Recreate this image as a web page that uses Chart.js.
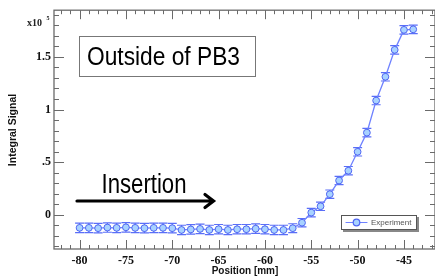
<!DOCTYPE html>
<html>
<head>
<meta charset="utf-8">
<script src="https://cdn.jsdelivr.net/npm/chart.js@4/dist/chart.umd.min.js"></script>
<style>
  html, body { margin: 0; padding: 0; background: #fff; overflow: hidden; }
  #wrap { width: 440px; height: 277px; }
</style>
</head>
<body>
<div id="wrap"><canvas id="myChart" width="440" height="277"></canvas></div>
<script>
// Datos del gráfico (posición en mm, señal integral en unidades de 1e5)
const positions = [-80, -79, -78, -77, -76, -75, -74, -73, -72, -71, -70, -69, -68, -67, -66, -65, -64, -63, -62,
    -61, -60, -59, -58, -57, -56, -55, -54, -53, -52, -51, -50, -49, -48, -47, -46, -45, -44];
const signal = [-0.125, -0.125, -0.128, -0.122, -0.125, -0.12, -0.125, -0.128, -0.125, -0.125, -0.128, -0.145,
    -0.14, -0.135, -0.145, -0.138, -0.145, -0.138, -0.138, -0.133, -0.138, -0.145, -0.145, -0.128, -0.076,
    0.02, 0.08, 0.195, 0.325, 0.418, 0.598, 0.78, 1.085, 1.311, 1.567, 1.757, 1.762];
const signalErr = [0.045, 0.045, 0.045, 0.045, 0.045, 0.045, 0.045, 0.045, 0.045, 0.045, 0.045, 0.045,
    0.045, 0.045, 0.045, 0.045, 0.045, 0.045, 0.045, 0.045, 0.045, 0.045, 0.045, 0.042, 0.04,
    0.04, 0.04, 0.04, 0.04, 0.04, 0.04, 0.04, 0.04, 0.04, 0.04, 0.04, 0.04];

// Ticks
const xMajorTicks = [-80, -75, -70, -65, -60, -55, -50, -45];
const xTickLabels = ['-80', '-75', '-70', '-65', '-60', '-55', '-50', '-45'];
const yMajorTicks = [0, 0.5, 1, 1.5];
const yTickLabels = ['0', '.5', '1', '1.5'];

const lineColor = '#6f82ff';
const markerBorder = '#4f66f2';
const markerFill = '#a8d2ff';
const frameColor = '#6a6a6a';

// Barras de error dibujadas con las escalas del gráfico
const errorBars = {
    id: 'errorBars',
    beforeDatasetsDraw(chart) {
        const { ctx, scales: { x, y } } = chart;
        ctx.save();
        ctx.strokeStyle = '#5a6ef8';
        ctx.lineWidth = 1.2;
        positions.forEach((p, i) => {
            const px = x.getPixelForValue(p);
            const yt = y.getPixelForValue(signal[i] + signalErr[i]);
            const yb = y.getPixelForValue(signal[i] - signalErr[i]);
            ctx.beginPath();
            ctx.moveTo(px, yt); ctx.lineTo(px, yb);
            ctx.moveTo(px - 4.5, yt); ctx.lineTo(px + 4.5, yt);
            ctx.moveTo(px - 4.5, yb); ctx.lineTo(px + 4.5, yb);
            ctx.stroke();
        });
        ctx.restore();
    }
};

// Marco, marcas de los ejes y anotaciones
const frameAndText = {
    id: 'frameAndText',
    afterDraw(chart) {
        const { ctx, chartArea: a, scales: { x, y } } = chart;
        ctx.save();
        ctx.strokeStyle = frameColor;
        ctx.lineWidth = 1.3;
        ctx.strokeRect(a.left, a.top, a.right - a.left, a.bottom - a.top);

        ctx.lineWidth = 1;
        ctx.beginPath();
        for (let v = -82; v <= -42; v++) {
            const px = Math.round(x.getPixelForValue(v)) + 0.5;
            const len = xMajorTicks.includes(v) ? 9 : 4;
            ctx.moveTo(px, a.bottom); ctx.lineTo(px, a.bottom - len);
            ctx.moveTo(px, a.top); ctx.lineTo(px, a.top + len);
        }
        for (let k = -3; k <= 19; k++) {
            const v = k / 10;
            const py = Math.round(y.getPixelForValue(v)) + 0.5;
            const len = (k % 5 === 0) ? 10 : 5;
            ctx.moveTo(a.left, py); ctx.lineTo(a.left + len, py);
            ctx.moveTo(a.right, py); ctx.lineTo(a.right - len, py);
        }
        ctx.stroke();

        // x10^5
        ctx.fillStyle = '#222';
        ctx.font = 'bold 10px "Liberation Serif"';
        ctx.textBaseline = 'alphabetic';
        ctx.textAlign = 'left';
        ctx.fillText('x10', 27, 26);
        ctx.font = 'bold 6px "Liberation Serif"';
        ctx.fillText('5', 46.5, 20);

        // títulos de los ejes
        ctx.fillStyle = '#111';
        ctx.font = 'bold 10px "Liberation Sans"';
        ctx.textAlign = 'center';
        ctx.textBaseline = 'middle';
        ctx.fillText('Position [mm]', 245, 271);
        ctx.save();
        ctx.translate(13, 130);
        ctx.rotate(-Math.PI / 2);
        ctx.font = 'bold 10.5px "Liberation Sans"';
        ctx.fillText('Integral Signal', 0, 0);
        ctx.restore();

        // recuadro del título
        ctx.fillStyle = '#fff';
        ctx.fillRect(79, 36, 176, 40);
        ctx.strokeStyle = '#777';
        ctx.lineWidth = 1;
        ctx.strokeRect(79.5, 36.5, 176, 40);
        drawFit(ctx, 'Outside of PB3', 87, 65, 153, 25);

        // Insertion + flecha
        drawFit(ctx, 'Insertion', 101.5, 193, 85, 27);
        ctx.strokeStyle = '#000';
        ctx.lineWidth = 3.2;
        ctx.lineCap = 'round';
        ctx.lineJoin = 'miter';
        ctx.beginPath();
        ctx.moveTo(77, 201); ctx.lineTo(213, 201);
        ctx.moveTo(205, 194.5); ctx.lineTo(213.5, 201); ctx.lineTo(205, 207.5);
        ctx.stroke();

        // leyenda
        ctx.fillStyle = '#888';
        ctx.fillRect(343, 217, 76, 15);
        ctx.fillStyle = '#fff';
        ctx.fillRect(341, 215, 76, 15);
        ctx.strokeStyle = '#555';
        ctx.lineWidth = 1;
        ctx.strokeRect(341.5, 215.5, 75, 14);
        ctx.strokeStyle = lineColor;
        ctx.lineWidth = 1.2;
        ctx.beginPath();
        ctx.moveTo(346, 222.5); ctx.lineTo(367, 222.5);
        ctx.stroke();
        ctx.beginPath();
        ctx.arc(356.5, 222.5, 3.3, 0, Math.PI * 2);
        ctx.fillStyle = markerFill;
        ctx.fill();
        ctx.strokeStyle = markerBorder;
        ctx.stroke();
        ctx.fillStyle = '#555';
        ctx.font = '8px "Liberation Sans"';
        ctx.textAlign = 'left';
        ctx.textBaseline = 'middle';
        ctx.fillText(chart.data.datasets[0].label, 371, 223);
        ctx.restore();
    }
};

// Texto condensado ajustado a un ancho dado
function drawFit(ctx, text, left, baseline, width, size) {
    ctx.save();
    ctx.font = size + 'px "Liberation Sans"';
    ctx.fillStyle = '#000';
    ctx.textAlign = 'left';
    ctx.textBaseline = 'alphabetic';
    const w = ctx.measureText(text).width;
    ctx.translate(left, baseline);
    ctx.scale(width / w, 1);
    ctx.fillText(text, 0, 0);
    ctx.restore();
}

const ctx = document.getElementById('myChart').getContext('2d');
const chart = new Chart(ctx, {
    type: 'line',
    data: {
        datasets: [{
            label: 'Experiment',
            data: positions.map((p, i) => ({ x: p, y: signal[i] })),
            borderColor: lineColor,
            borderWidth: 1.3,
            pointRadius: 3.4,
            pointBorderWidth: 1,
            pointBorderColor: markerBorder,
            pointBackgroundColor: markerFill,
            tension: 0
        }]
    },
    options: {
        responsive: false,
        animation: false,
        layout: { padding: { left: 0, right: 3, top: 10, bottom: 0 } },
        plugins: { legend: { display: false }, tooltip: { enabled: false } },
        scales: {
            x: {
                type: 'linear',
                min: -82.76,
                max: -41.65,
                grid: { display: false, drawTicks: false, tickLength: 0 },
                border: { display: false },
                afterBuildTicks: s => { s.ticks = xMajorTicks.map(v => ({ value: v })); },
                afterFit: s => { s.height = 28; },
                ticks: {
                    padding: 5,
                    maxRotation: 0,
                    autoSkip: false,
                    color: '#111',
                    font: { family: '"Liberation Serif"', size: 12, weight: 'bold' },
                    callback: v => xTickLabels[xMajorTicks.indexOf(v)]
                }
            },
            y: {
                min: -0.326,
                max: 1.944,
                grid: { display: false, drawTicks: false, tickLength: 0 },
                border: { display: false },
                afterBuildTicks: s => { s.ticks = yMajorTicks.map(v => ({ value: v })); },
                afterFit: s => { s.width = 54; },
                ticks: {
                    padding: 3,
                    autoSkip: false,
                    color: '#111',
                    font: { family: '"Liberation Serif"', size: 12, weight: 'bold' },
                    callback: v => yTickLabels[yMajorTicks.indexOf(v)]
                }
            }
        }
    },
    plugins: [errorBars, frameAndText]
});
</script>
</body>
</html>
